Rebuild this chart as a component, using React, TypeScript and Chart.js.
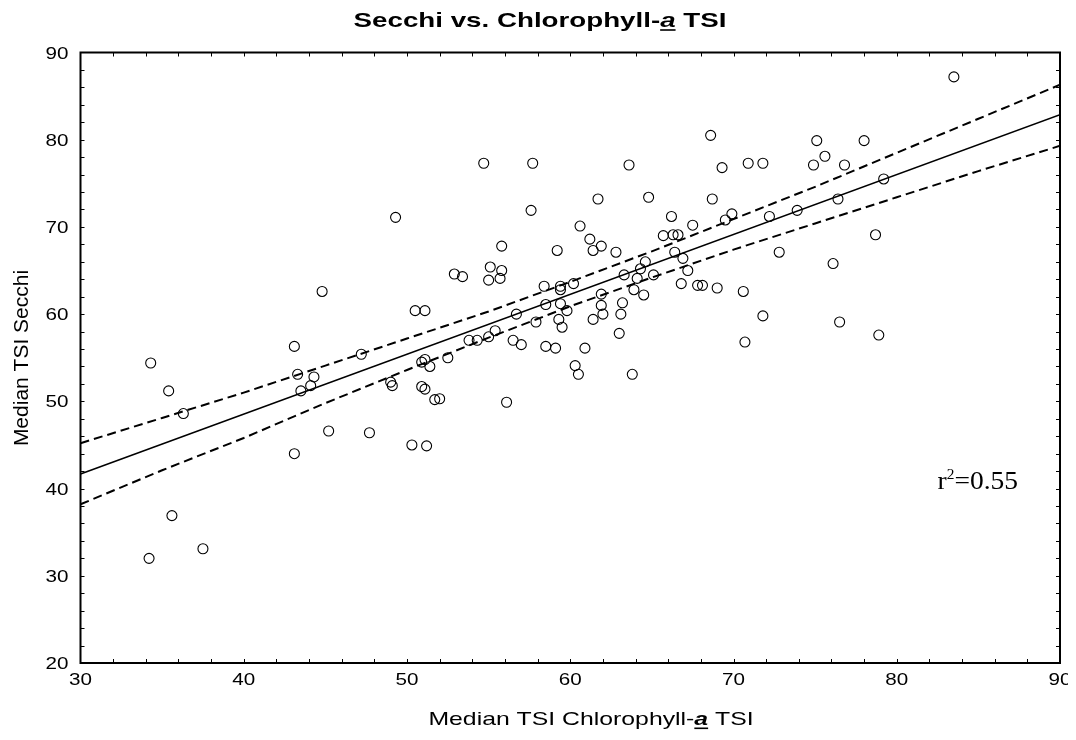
import React, { useEffect, useRef } from "react";
import { Chart, registerables } from "chart.js";

Chart.register(...registerables);

const chlTSI = [
  34.3, 35.4, 36.3, 34.2, 35.6, 37.5, 43.1, 43.3, 43.5, 44.1,
  44.3, 43.1, 45.2, 47.7, 47.2, 49.0, 49.1, 54.7, 57.7, 63.6,
  49.3, 44.8, 50.3, 51.2, 50.9, 51.1, 51.7, 52.0, 56.1, 50.5,
  51.1, 50.9, 51.1, 51.4, 52.5, 53.8, 54.3, 55.0, 55.4, 56.5,
  57.0, 56.7, 52.9, 53.4, 55.1, 55.8, 55.0, 55.7, 55.8, 57.6,
  61.7, 64.8, 60.6, 61.2, 61.9, 61.4, 62.8, 66.2, 65.7, 66.3,
  66.6, 59.2, 58.4, 59.4, 59.4, 60.2, 58.5, 59.4, 59.8, 59.3,
  59.5, 57.9, 58.5, 59.1, 60.9, 60.3, 60.5, 63.8, 61.9, 61.9,
  62.0, 61.4, 63.2, 63.1, 63.0, 63.3, 64.1, 64.3, 64.6, 63.9,
  64.5, 65.1, 66.4, 68.6, 69.3, 70.9, 71.8, 75.1, 78.0, 75.6,
  74.9, 76.8, 79.2, 68.7, 67.5, 69.9, 69.5, 72.2, 73.9, 76.4,
  78.7, 72.8, 76.1, 66.9, 67.2, 66.8, 67.8, 68.1, 69.0, 70.6,
  71.8, 70.7, 76.5, 78.9, 83.5,
];

const secchiTSI = [
  54.4, 51.2, 48.6, 32.0, 36.9, 33.1, 56.3, 53.1, 51.2, 51.8,
  52.8, 44.0, 46.6, 46.4, 55.4, 52.2, 51.8, 77.3, 77.3, 77.1,
  71.1, 62.6, 45.0, 44.9, 51.7, 51.4, 50.2, 50.3, 49.9, 60.4,
  60.4, 54.5, 54.8, 54.0, 55.0, 57.0, 57.0, 57.4, 58.1, 57.0,
  56.5, 60.0, 64.6, 64.3, 65.4, 65.0, 63.9, 64.1, 67.8, 71.9,
  73.2, 73.4, 70.1, 68.6, 67.8, 67.3, 67.1, 71.2, 69.0, 69.1,
  69.1, 67.3, 63.2, 63.2, 62.8, 63.5, 61.1, 61.2, 60.4, 59.4,
  58.5, 59.1, 56.3, 56.1, 56.1, 54.1, 53.1, 53.1, 62.3, 61.0,
  60.0, 59.4, 61.3, 60.0, 57.8, 64.5, 64.1, 65.2, 66.0, 62.8,
  62.2, 64.5, 67.1, 80.5, 76.8, 77.3, 77.3, 79.9, 79.9, 78.1,
  77.1, 77.1, 75.5, 73.2, 70.2, 71.5, 70.8, 71.2, 71.9, 73.2,
  69.1, 67.1, 65.8, 66.4, 65.0, 63.5, 63.3, 63.3, 63.0, 62.6,
  59.8, 56.8, 59.1, 57.6, 87.2,
];

// Fitted regression line (end points)
const fitX = [30, 90];
const fitY = [41.66, 82.87];

// 95% confidence band
const bandX = [30, 35, 40, 45, 50, 55, 60, 65, 70, 75, 80, 85, 90];
const bandUpper = [45.2, 48.1, 51.0, 54.1, 57.2, 60.3, 63.7, 67.2, 70.9, 74.6, 78.5, 82.4, 86.3];
const bandLower = [38.2, 42.1, 45.8, 49.8, 53.6, 57.3, 60.9, 64.2, 67.4, 70.4, 73.4, 76.4, 79.3];

const xTicks = [30, 40, 50, 60, 70, 80, 90];
const yTicks = [20, 30, 40, 50, 60, 70, 80, 90];

const SANS = "'Liberation Sans', Arial, Helvetica, sans-serif";
const SERIF = "'Liberation Serif', 'Times New Roman', serif";

// canvas sits at page (8, 8); helper converts page coordinates
const P = (v: number) => v - 8;

type Part = { t: string; font: string; u?: boolean };

function drawMixed(
  ctx: CanvasRenderingContext2D,
  parts: Part[],
  cx: number,
  baseline: number,
  sx: number
) {
  let total = 0;
  const widths = parts.map((p) => {
    ctx.font = p.font;
    const w = ctx.measureText(p.t).width;
    total += w;
    return w;
  });
  ctx.save();
  ctx.translate(cx, baseline);
  ctx.scale(sx, 1);
  let x = -total / 2;
  ctx.textAlign = "left";
  ctx.textBaseline = "alphabetic";
  ctx.fillStyle = "#000";
  parts.forEach((p, i) => {
    ctx.font = p.font;
    ctx.fillText(p.t, x, 0);
    if (p.u) ctx.fillRect(x, 2.5, widths[i], 1.6);
    x += widths[i];
  });
  ctx.restore();
}

function stretchedText(
  ctx: CanvasRenderingContext2D,
  text: string,
  x: number,
  y: number,
  sx: number,
  align: CanvasTextAlign
) {
  ctx.save();
  ctx.translate(x, y);
  ctx.scale(sx, 1);
  ctx.textAlign = align;
  ctx.textBaseline = "alphabetic";
  ctx.fillText(text, 0, 0);
  ctx.restore();
}

const decorPlugin = {
  id: "decor",
  afterDraw(chart: any) {
    const ctx = chart.ctx as CanvasRenderingContext2D;
    const { left, right, top, bottom } = chart.chartArea;
    const xs = chart.scales.x;
    const ys = chart.scales.y;
    ctx.save();
    ctx.fillStyle = "#000";
    ctx.strokeStyle = "#000";
    // inward minor ticks on all sides
    ctx.lineWidth = 1;
    ctx.beginPath();
    for (let v = 32; v < 90; v += 2) {
      const px = Math.round(xs.getPixelForValue(v)) + 0.5;
      ctx.moveTo(px, bottom);
      ctx.lineTo(px, bottom - 4);
      ctx.moveTo(px, top);
      ctx.lineTo(px, top + 4);
    }
    for (let v = 22; v < 90; v += 2) {
      const py = Math.round(ys.getPixelForValue(v)) + 0.5;
      ctx.moveTo(left, py);
      ctx.lineTo(left + 4, py);
      ctx.moveTo(right, py);
      ctx.lineTo(right - 4, py);
    }
    ctx.stroke();
    // frame
    ctx.lineWidth = 2;
    ctx.strokeRect(left, top, right - left, bottom - top);

    // tick labels
    ctx.font = `16.5px ${SANS}`;
    xTicks.forEach((v) => {
      stretchedText(ctx, String(v), xs.getPixelForValue(v), P(685), 1.25, "center");
    });
    yTicks.forEach((v) => {
      stretchedText(ctx, String(v), P(68.5), ys.getPixelForValue(v) + 6, 1.25, "right");
    });

    // title
    drawMixed(
      ctx,
      [
        { t: "Secchi vs. Chlorophyll-", font: `bold 21px ${SANS}` },
        { t: "a", font: `italic bold 21px ${SANS}`, u: true },
        { t: " TSI", font: `bold 21px ${SANS}` },
      ],
      P(540),
      P(26.7),
      1.32
    );

    // x-axis title
    drawMixed(
      ctx,
      [
        { t: "Median TSI Chlorophyll-", font: `18.5px ${SANS}` },
        { t: "a", font: `italic bold 18.5px ${SANS}`, u: true },
        { t: " TSI", font: `18.5px ${SANS}` },
      ],
      P(591),
      P(725),
      1.34
    );

    // y-axis title
    ctx.save();
    ctx.translate(P(28), P(358));
    ctx.rotate(-Math.PI / 2);
    ctx.font = `21px ${SANS}`;
    ctx.textAlign = "center";
    ctx.textBaseline = "alphabetic";
    ctx.fillText("Median TSI Secchi", 0, 0);
    ctx.restore();

    // r^2 annotation
    const rx = xs.getPixelForValue(82.5);
    const ry = ys.getPixelForValue(39.9);
    ctx.save();
    ctx.translate(rx, ry);
    ctx.scale(1.1, 1);
    ctx.textAlign = "left";
    ctx.textBaseline = "alphabetic";
    ctx.font = `25px ${SERIF}`;
    ctx.fillText("r", 0, 0);
    let wx = ctx.measureText("r").width;
    ctx.font = `14px ${SERIF}`;
    ctx.fillText("2", wx, -10);
    wx += ctx.measureText("2").width;
    ctx.font = `25px ${SERIF}`;
    ctx.fillText("=0.55", wx, 0);
    ctx.restore();

    ctx.restore();
  },
};

export default function App() {
  const ref = useRef<HTMLCanvasElement | null>(null);

  useEffect(() => {
    if (!ref.current) return;
    const points = chlTSI.map((x, i) => ({ x, y: secchiTSI[i] }));
    const fit = fitX.map((x, i) => ({ x, y: fitY[i] }));
    const upper = bandX.map((x, i) => ({ x, y: bandUpper[i] }));
    const lower = bandX.map((x, i) => ({ x, y: bandLower[i] }));

    const chart = new Chart(ref.current, {
      type: "scatter",
      data: {
        datasets: [
          {
            label: "TSI",
            data: points,
            pointStyle: "circle",
            pointRadius: 5,
            pointBorderWidth: 1.1,
            borderColor: "#000",
            backgroundColor: "rgba(0,0,0,0)",
          } as any,
          {
            type: "line",
            label: "fit",
            data: fit,
            borderColor: "#000",
            borderWidth: 1.6,
            pointRadius: 0,
            fill: false,
          } as any,
          {
            type: "line",
            label: "upper",
            data: upper,
            borderColor: "#000",
            borderWidth: 2,
            borderDash: [9, 5],
            pointRadius: 0,
            fill: false,
          } as any,
          {
            type: "line",
            label: "lower",
            data: lower,
            borderColor: "#000",
            borderWidth: 2,
            borderDash: [9, 5],
            pointRadius: 0,
            fill: false,
          } as any,
        ],
      },
      options: {
        animation: false,
        responsive: false,
        maintainAspectRatio: false,
        devicePixelRatio: 1,
        layout: { padding: { top: 44.5, right: 16, left: 0, bottom: 0 } },
        plugins: {
          legend: { display: false },
          tooltip: { enabled: false },
          title: { display: false },
        },
        scales: {
          x: {
            type: "linear",
            min: 30,
            max: 90,
            afterBuildTicks: (s: any) => {
              s.ticks = xTicks.map((v) => ({ value: v }));
            },
            afterFit: (s: any) => {
              s.height = 69;
            },
            ticks: { display: false },
            grid: { display: false, drawTicks: false },
            border: { display: false },
          },
          y: {
            type: "linear",
            min: 20,
            max: 90,
            afterBuildTicks: (s: any) => {
              s.ticks = yTicks.map((v) => ({ value: v }));
            },
            afterFit: (s: any) => {
              s.width = 72.5;
            },
            ticks: { display: false },
            grid: { display: false, drawTicks: false },
            border: { display: false },
          },
        },
      },
      plugins: [decorPlugin],
    });
    return () => chart.destroy();
  }, []);

  return (
    <canvas
      ref={ref}
      width={1068}
      height={724}
      style={{ display: "block", width: 1068, height: 724 }}
    />
  );
}
